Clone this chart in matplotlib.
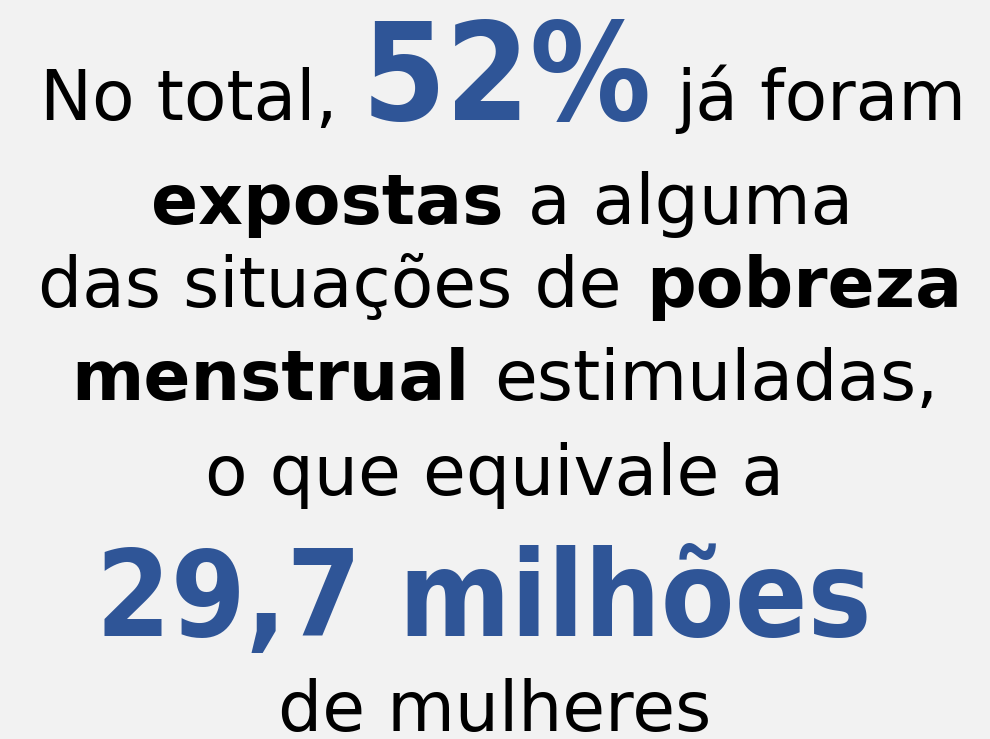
import matplotlib
matplotlib.use("Agg")
import matplotlib.pyplot as plt

BG = "#f2f2f2"
BLUE = "#2f5597"
BLACK = "#000000"
FONT = "DejaVu Sans"

# text content: (words, weight, colour, style)
line1 = [("No total,", "normal", BLACK, "body"), ("52%", "bold", BLUE, "big1"),
         ("já foram", "normal", BLACK, "body")]
line2 = [("expostas", "bold", BLACK, "body"), ("a alguma", "normal", BLACK, "body")]
line3 = [("das situações de", "normal", BLACK, "body"), ("pobreza", "bold", BLACK, "body")]
line4 = [("menstrual", "bold", BLACK, "body"), ("estimuladas,", "normal", BLACK, "body")]
line5 = [("o que equivale a", "normal", BLACK, "body")]
line6 = [("29,7 milhões", "bold", BLUE, "big2")]
line7 = [("de mulheres", "normal", BLACK, "body")]
lines = [line1, line2, line3, line4, line5, line6, line7]

# layout (pixel baselines, centres)
baselines = [120, 224, 307, 400, 495, 636, 731]
centres = [503, 502, 500, 505, 495, 484, 495]
sizes = {"body": 50, "big1": 97, "big2": 86}
stretch = {"body": "normal", "big1": "condensed", "big2": "condensed"}

W, H = 990, 739
fig = plt.figure(figsize=(W / 100, H / 100), dpi=100, facecolor=BG)
r = fig.canvas.get_renderer()


def width(s, st, weight):
    t = fig.text(0, 0, s, fontsize=sizes[st], weight=weight, family=FONT,
                 fontstretch=stretch[st])
    w = t.get_window_extent(r).width
    t.remove()
    return w


def space():
    return width("a a", "body", "normal") - width("aa", "body", "normal")


for segs, base, cx in zip(lines, baselines, centres):
    widths = [width(s, st, wt) for s, wt, c, st in segs]
    gaps = [space() * 1.1 for i in range(1, len(segs))]
    total = sum(widths) + sum(gaps)
    x = cx - total / 2
    for i, (s, wt, c, st) in enumerate(segs):
        fig.text(x / W, 1 - base / H, s, fontsize=sizes[st], weight=wt, color=c,
                 family=FONT, fontstretch=stretch[st], ha="left", va="baseline")
        x += widths[i]
        if i < len(gaps):
            x += gaps[i]

fig.savefig("out.png", dpi=100, facecolor=BG)
